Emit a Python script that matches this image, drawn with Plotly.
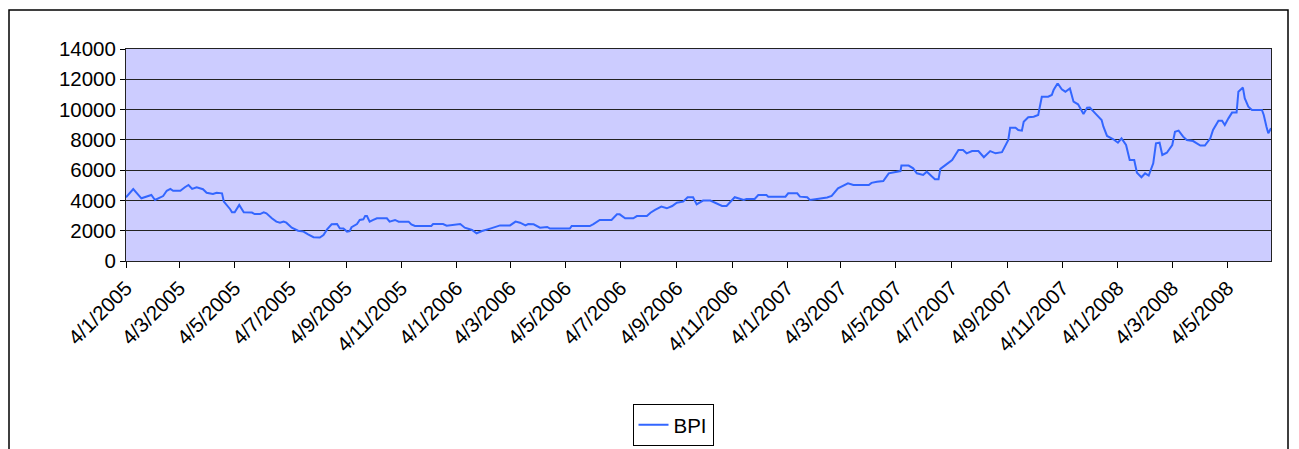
import plotly.graph_objects as go

dates = [
    "2005-01-04", "2005-01-12", "2005-01-21", "2005-02-01", "2005-02-05", "2005-02-14", "2005-02-18",
    "2005-02-22", "2005-02-25", "2005-03-05", "2005-03-10", "2005-03-14", "2005-03-18", "2005-03-23",
    "2005-03-30", "2005-04-03", "2005-04-10", "2005-04-14", "2005-04-20", "2005-04-22", "2005-04-29",
    "2005-05-01", "2005-05-04", "2005-05-09", "2005-05-14", "2005-05-23", "2005-05-26", "2005-06-01",
    "2005-06-05", "2005-06-08", "2005-06-14", "2005-06-19", "2005-06-23", "2005-06-27", "2005-06-30",
    "2005-07-06", "2005-07-13", "2005-07-19", "2005-07-24", "2005-07-30", "2005-08-06", "2005-08-10",
    "2005-08-14", "2005-08-19", "2005-08-25", "2005-08-28", "2005-09-01", "2005-09-05", "2005-09-08",
    "2005-09-10", "2005-09-16", "2005-09-19", "2005-09-23", "2005-09-25", "2005-09-27", "2005-09-30",
    "2005-10-04", "2005-10-08", "2005-10-19", "2005-10-22", "2005-10-28", "2005-11-01", "2005-11-12",
    "2005-11-15", "2005-11-19", "2005-12-07", "2005-12-09", "2005-12-20", "2005-12-24", "2006-01-08",
    "2006-01-13", "2006-01-21", "2006-01-26", "2006-02-01", "2006-02-10", "2006-02-17", "2006-02-21",
    "2006-03-04", "2006-03-10", "2006-03-15", "2006-03-21", "2006-03-24", "2006-03-30", "2006-04-06",
    "2006-04-14", "2006-04-17", "2006-05-09", "2006-05-11", "2006-05-31", "2006-06-04", "2006-06-11",
    "2006-06-24", "2006-06-30", "2006-07-03", "2006-07-09", "2006-07-18", "2006-07-22", "2006-08-02",
    "2006-08-06", "2006-08-11", "2006-08-18", "2006-08-24", "2006-08-30", "2006-09-04", "2006-09-11",
    "2006-09-16", "2006-09-22", "2006-09-26", "2006-10-03", "2006-10-11", "2006-10-16", "2006-10-24",
    "2006-10-29", "2006-11-02", "2006-11-07", "2006-11-17", "2006-11-20", "2006-11-29", "2006-12-03",
    "2006-12-12", "2006-12-14", "2007-01-02", "2007-01-05", "2007-01-15", "2007-01-18", "2007-01-26",
    "2007-01-29", "2007-02-04", "2007-02-17", "2007-02-22", "2007-03-01", "2007-03-12", "2007-03-18",
    "2007-04-04", "2007-04-07", "2007-04-13", "2007-04-20", "2007-04-26", "2007-05-03", "2007-05-09",
    "2007-05-10", "2007-05-18", "2007-05-23", "2007-05-27", "2007-06-03", "2007-06-07", "2007-06-13",
    "2007-06-16", "2007-06-20", "2007-06-22", "2007-06-29", "2007-07-05", "2007-07-12", "2007-07-17",
    "2007-07-21", "2007-07-27", "2007-08-03", "2007-08-09", "2007-08-16", "2007-08-22", "2007-08-29",
    "2007-09-05", "2007-09-07", "2007-09-13", "2007-09-16", "2007-09-20", "2007-09-22", "2007-09-27",
    "2007-10-03", "2007-10-08", "2007-10-12", "2007-10-19", "2007-10-23", "2007-10-25", "2007-10-29",
    "2007-10-30", "2007-11-03", "2007-11-07", "2007-11-12", "2007-11-16", "2007-11-21", "2007-11-27",
    "2007-12-01", "2007-12-04", "2007-12-10", "2007-12-17", "2007-12-19", "2007-12-23", "2007-12-30",
    "2008-01-04", "2008-01-08", "2008-01-13", "2008-01-17", "2008-01-22", "2008-01-25", "2008-01-30",
    "2008-02-03", "2008-02-07", "2008-02-12", "2008-02-15", "2008-02-19", "2008-02-22", "2008-02-27",
    "2008-03-04", "2008-03-07", "2008-03-11", "2008-03-16", "2008-03-20", "2008-03-27", "2008-04-04",
    "2008-04-09", "2008-04-15", "2008-04-18", "2008-04-24", "2008-04-28", "2008-05-01", "2008-05-05",
    "2008-05-09", "2008-05-14", "2008-05-16", "2008-05-21", "2008-05-23", "2008-05-27", "2008-05-31",
    "2008-06-11", "2008-06-13", "2008-06-16", "2008-06-18", "2008-06-21",
]

bpi = [
    4210, 4750, 4140, 4360, 4030, 4290, 4640,
    4760, 4640, 4640, 4870, 5020, 4760, 4870,
    4740, 4510, 4430, 4510, 4470, 3920, 3420,
    3220, 3220, 3700, 3220, 3200, 3100, 3100,
    3220, 3150, 2820, 2600, 2530, 2600, 2530,
    2200, 2000, 1940, 1760, 1570, 1550, 1720,
    2090, 2420, 2440, 2160, 2140, 1940, 1980,
    2230, 2440, 2710, 2750, 2970, 2970, 2600,
    2710, 2820, 2820, 2600, 2710, 2600, 2600,
    2420, 2310, 2310, 2440, 2440, 2330, 2440,
    2200, 2050, 1830, 1980, 2140, 2250, 2350,
    2350, 2600, 2530, 2350, 2440, 2420, 2200,
    2250, 2140, 2140, 2310, 2310, 2440, 2710,
    2710, 3080, 3080, 2820, 2820, 2970, 2970,
    3190, 3370, 3590, 3480, 3630, 3850, 3920,
    4210, 4210, 3740, 3990, 3990, 3850, 3630,
    3630, 3920, 4210, 4030, 4100, 4100, 4360,
    4360, 4250, 4250, 4470, 4470, 4250, 4210,
    4030, 4080, 4190, 4300, 4800, 5130, 5020,
    5020, 5160, 5240, 5280, 5790, 5860, 5940,
    6300, 6300, 6120, 5790, 5680, 5900, 5570,
    5400, 5400, 6080, 6400, 6670, 7330, 7330,
    7110, 7260, 7260, 6850, 7260, 7110, 7190,
    7990, 8800, 8800, 8650, 8610, 9200, 9490,
    9530, 9640, 10850, 10850, 10960, 11290, 11690,
    11690, 11340, 11180, 11400, 10520, 10350, 9710,
    10120, 10140, 9750, 9310, 8870, 8260, 8040,
    7810, 8100, 7660, 6670, 6670, 5830, 5530,
    5790, 5640, 6450, 7770, 7810, 7000, 7150,
    7660, 8540, 8610, 8210, 7990, 7920, 7620,
    7620, 8100, 8650, 9270, 9270, 8980, 9420,
    9800, 9800, 11180, 11450, 10750, 10190, 9970,
    9970, 9640, 8870, 8430, 8760,
]

tick_dates = [
    "2005-01-04", "2005-03-04", "2005-05-04", "2005-07-04", "2005-09-04", "2005-11-04",
    "2006-01-04", "2006-03-04", "2006-05-04", "2006-07-04", "2006-09-04", "2006-11-04",
    "2007-01-04", "2007-03-04", "2007-05-04", "2007-07-04", "2007-09-04", "2007-11-04",
    "2008-01-04", "2008-03-04", "2008-05-04",
]
tick_labels = [
    "4/1/2005", "4/3/2005", "4/5/2005", "4/7/2005", "4/9/2005", "4/11/2005",
    "4/1/2006", "4/3/2006", "4/5/2006", "4/7/2006", "4/9/2006", "4/11/2006",
    "4/1/2007", "4/3/2007", "4/5/2007", "4/7/2007", "4/9/2007", "4/11/2007",
    "4/1/2008", "4/3/2008", "4/5/2008",
]

# The page body adds an 8px margin, so the figure is drawn 8px in from the corner.
OFF = 8
W, H = 1299 - OFF, 449 - OFF
L, R, T, B = 126 - OFF, 1271 - OFF, 49 - OFF, 261 - OFF

fig = go.Figure()
fig.add_trace(go.Scatter(
    x=dates, y=bpi, mode="lines", name="BPI",
    line=dict(color="#3366FF", width=2),
))

font = dict(family="Liberation Sans, Arial, sans-serif", size=20.5, color="black")

def px_x(p):
    return (p - OFF - L) / (R - L)

def px_y(p):
    return (B - (p - OFF)) / (B - T)

fig.update_layout(
    width=W, height=H,
    margin=dict(l=L, r=W - R, t=T, b=H - B, pad=0, autoexpand=False),
    paper_bgcolor="white",
    plot_bgcolor="#CCCCFF",
    font=font,
    showlegend=True,
    legend=dict(
        x=px_x(673), y=px_y(404), xanchor="center", yanchor="top",
        bgcolor="white", bordercolor="black", borderwidth=1,
        font=font, itemwidth=30,
    ),
    xaxis=dict(
        type="date",
        range=["2005-01-04", "2008-06-21"],
        tickvals=tick_dates, ticktext=tick_labels,
        tickangle=-45,
        ticks="outside", ticklen=6, tickcolor="black", tickwidth=1,
        showgrid=False, showline=True, linecolor="#222", linewidth=1, mirror=True,
        tickfont=font, zeroline=False,
    ),
    yaxis=dict(
        range=[0, 14000], dtick=2000, tick0=0,
        ticks="outside", ticklen=5, tickcolor="black", tickwidth=1,
        showgrid=True, gridcolor="#222", gridwidth=1,
        showline=True, linecolor="#222", linewidth=1, mirror=True,
        tickfont=font, zeroline=False, tickformat="d",
    ),
    shapes=[
        dict(type="rect", xref="paper", yref="paper",
             x0=px_x(OFF + 1), x1=px_x(1288), y0=px_y(470), y1=px_y(10),
             line=dict(color="black", width=1.5), fillcolor="rgba(0,0,0,0)", layer="below"),
    ],
)

fig.write_html("out.html")
